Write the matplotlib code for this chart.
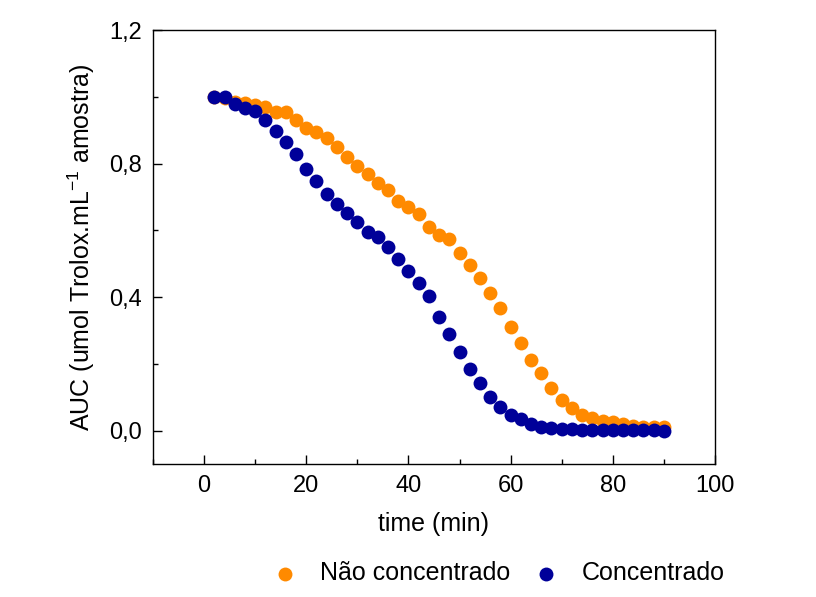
import numpy as np
import matplotlib
matplotlib.use('Agg')
import matplotlib.pyplot as plt
from matplotlib.ticker import MultipleLocator, FuncFormatter

plt.rcParams['font.family'] = ['Liberation Sans', 'DejaVu Sans']
plt.rcParams['mathtext.fontset'] = 'custom'
plt.rcParams['mathtext.rm'] = 'Liberation Sans'
plt.rcParams['mathtext.default'] = 'regular'

# time points (min)
time = list(range(2, 91, 2))

# AUC values
nao_concentrado = [1.00, 0.995, 0.985, 0.98, 0.975, 0.97, 0.955, 0.955, 0.93, 0.908,
                   0.896, 0.876, 0.85, 0.82, 0.793, 0.769, 0.741, 0.721, 0.689, 0.671,
                   0.648, 0.611, 0.586, 0.573, 0.533, 0.496, 0.456, 0.413, 0.368, 0.31,
                   0.263, 0.211, 0.172, 0.127, 0.092, 0.067, 0.047, 0.037, 0.03, 0.025,
                   0.02, 0.015, 0.012, 0.01, 0.01]
concentrado = [1.00, 1.00, 0.978, 0.965, 0.958, 0.93, 0.898, 0.866, 0.829, 0.783,
               0.748, 0.708, 0.678, 0.651, 0.624, 0.594, 0.579, 0.551, 0.513, 0.479,
               0.443, 0.403, 0.341, 0.289, 0.236, 0.184, 0.142, 0.10, 0.072, 0.047,
               0.034, 0.021, 0.012, 0.008, 0.005, 0.004, 0.003, 0.003, 0.002, 0.002,
               0.002, 0.001, 0.001, 0.001, 0.0]

labels = ['Não concentrado', 'Concentrado']
colors = ['#FF8A00', '#000099']

fig = plt.figure(figsize=(8.16, 5.97), dpi=100)
ax = fig.add_axes([0.1875, 0.2228, 0.6887, 0.7269])

ax.scatter(time, nao_concentrado, s=100, color=colors[0], label=labels[0],
           linewidths=0, zorder=2)
ax.scatter(time, concentrado, s=100, color=colors[1], label=labels[1],
           linewidths=0, zorder=3)

ax.set_xlim(-10, 100)
ax.set_ylim(-0.1, 1.2)
ax.xaxis.set_major_locator(MultipleLocator(20))
ax.xaxis.set_minor_locator(MultipleLocator(10))
ax.yaxis.set_major_locator(MultipleLocator(0.4))
ax.yaxis.set_minor_locator(MultipleLocator(0.2))
ax.yaxis.set_major_formatter(FuncFormatter(lambda v, p: ('%.1f' % v).replace('.', ',')))

ax.tick_params(which='both', direction='in', labelsize=17, top=False, right=False,
               width=1.0)
ax.tick_params(which='major', length=6.5, pad=8)
ax.tick_params(which='minor', length=3.4)
for sp in ax.spines.values():
    sp.set_linewidth(1.0)

ax.set_xlabel('time (min)', fontsize=18, labelpad=11)
ax.set_ylabel('AUC (umol Trolox.mL$^{-1}$ amostra)', fontsize=18, labelpad=9)

fig.legend(loc='center', bbox_to_anchor=(0.603, 0.04), ncol=2, frameon=False,
           fontsize=18, handletextpad=0.4, columnspacing=0.45, scatterpoints=1)

fig.savefig('out.png', dpi=100)
